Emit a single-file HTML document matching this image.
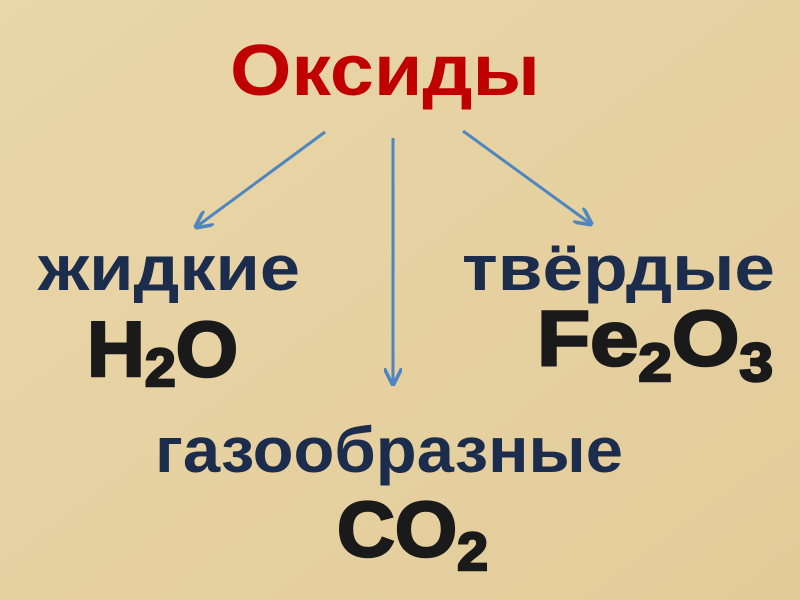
<!DOCTYPE html>
<html><head><meta charset="utf-8"><style>
html,body{margin:0;padding:0;}
body{width:800px;height:600px;overflow:hidden;background:#e8d5a6;}
svg{display:block}
</style></head><body>
<svg width="800" height="600" viewBox="0 0 800 600" xmlns="http://www.w3.org/2000/svg">
<defs>
<linearGradient id="bg" x1="0" y1="0" x2="1" y2="1">
<stop offset="0" stop-color="#e9d6a9"/><stop offset="0.5" stop-color="#e6d1a1"/><stop offset="1" stop-color="#e3cc9a"/>
</linearGradient>
<marker id="ah" viewBox="0 0 10 10" refX="9" refY="5" markerWidth="6" markerHeight="6" orient="auto">
<path d="M0,0 L10,5 L0,10" fill="none" stroke="#4f86c0" stroke-width="2"/>
</marker>
</defs>
<rect width="800" height="600" fill="url(#bg)"/>
<g stroke="#4f86c0" stroke-width="3" fill="none" marker-end="url(#ah)">
<line x1="325" y1="132" x2="196" y2="227"/>
<line x1="393" y1="138" x2="393" y2="384"/>
<line x1="463" y1="131" x2="591" y2="224"/>
</g>
<g font-family="Liberation Sans, sans-serif" font-weight="bold">
<text x="230" y="95" font-size="72" fill="#c00000" textLength="310" lengthAdjust="spacingAndGlyphs">Оксиды</text>
<text x="38" y="290" font-size="64" fill="#1b2c4c" textLength="262" lengthAdjust="spacingAndGlyphs">жидкие</text>
<text x="462" y="290" font-size="64" fill="#1b2c4c" textLength="313" lengthAdjust="spacingAndGlyphs">твёрдые</text>
<text x="155" y="472" font-size="64" fill="#1b2c4c" textLength="468" lengthAdjust="spacingAndGlyphs">газообразные</text>
<g fill="#1a1a1a" stroke="#1a1a1a" stroke-width="2.5">
<text x="87" y="376" font-size="78" textLength="151" lengthAdjust="spacingAndGlyphs">H<tspan font-size="54" dy="10">2</tspan><tspan dy="-10">O</tspan></text>
<text x="537" y="365" font-size="78" textLength="236" lengthAdjust="spacingAndGlyphs">Fe<tspan font-size="54" dy="16">2</tspan><tspan dy="-16">O</tspan><tspan font-size="54" dy="16">3</tspan></text>
<text x="337" y="556" font-size="78" textLength="151" lengthAdjust="spacingAndGlyphs">CO<tspan font-size="54" dy="14">2</tspan></text>
</g>
</g>
</svg>
</body></html>
